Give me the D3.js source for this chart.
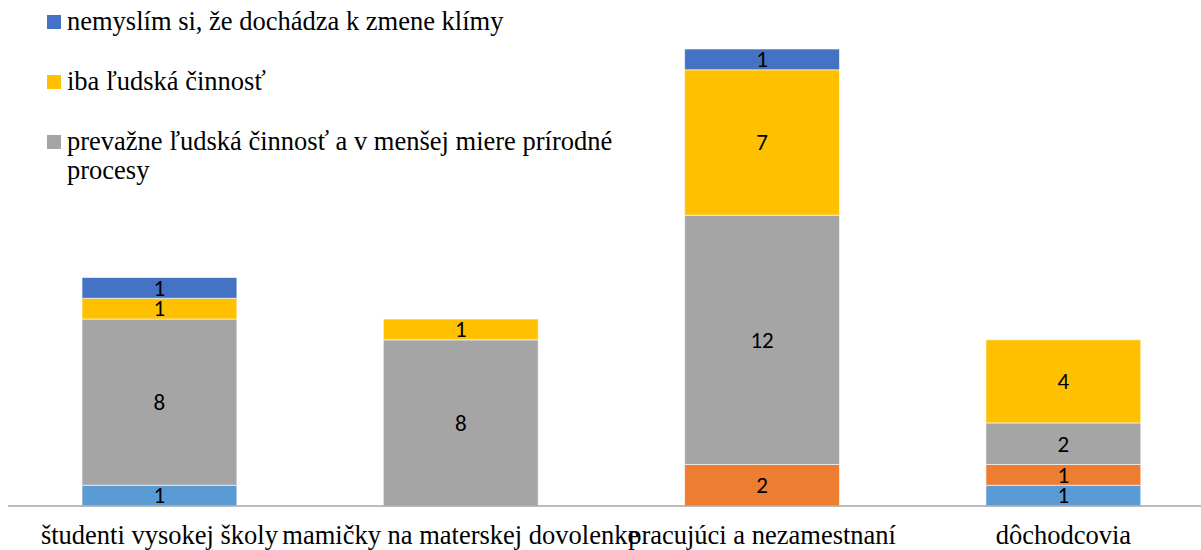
<!DOCTYPE html>
<html>
<head>
<meta charset="utf-8">
<script src="https://cdn.jsdelivr.net/npm/d3@7"></script>
</head>
<body style="margin:0">
<svg id="chart" width="1201" height="550"></svg>
<script>
// ---- data ----
const categories = ["študenti vysokej školy", "mamičky na materskej dovolenke", "pracujúci a nezamestnaní", "dôchodcovia"];
const seriesNames = ["iba prírodné procesy", "prevažne prírodné procesy a v menšej miere ľudská činnosť", "prevažne ľudská činnosť a v menšej miere prírodné procesy", "iba ľudská činnosť", "nemyslím si, že dochádza k zmene klímy"];
const seriesColors = ["#5B9BD5", "#ED7D31", "#A5A5A5", "#FFC000", "#4472C4"];
const valuesIbaPrirodne = [1, 0, 0, 1];
const valuesPrevaznePrirodne = [0, 0, 2, 1];
const valuesPrevazneLudska = [8, 8, 12, 2];
const valuesIbaLudska = [1, 1, 7, 4];
const valuesNemyslim = [1, 0, 1, 0];
const legendSeries = [4, 3, 2]; // indices of series shown in legend
const legendLines = [["nemyslím si, že dochádza k zmene klímy"], ["iba ľudská činnosť"], ["prevažne ľudská činnosť a v menšej miere prírodné", "procesy"]];
const yMax = 22;

// ---- build ----
const allValues = [valuesIbaPrirodne, valuesPrevaznePrirodne, valuesPrevazneLudska, valuesIbaLudska, valuesNemyslim];
const rows = categories.map((c, i) => {
  const r = { cat: c };
  seriesNames.forEach((s, j) => r[s] = allValues[j][i]);
  return r;
});
const stack = d3.stack().keys(seriesNames)(rows);

const svg = d3.select("#chart");
const x = d3.scaleBand().domain(categories).range([8.8, 1214]).paddingInner(0.486).paddingOuter(0.243);
const y = d3.scaleLinear().domain([0, yMax]).range([506, 49]);

const g = svg.append("g");
stack.forEach((layer, j) => {
  const lg = g.append("g").attr("fill", seriesColors[j]);
  lg.selectAll("rect").data(layer.filter(d => d[1] - d[0] > 0)).enter().append("rect")
    .attr("x", d => x(d.data.cat))
    .attr("width", x.bandwidth())
    .attr("y", d => y(d[1]))
    .attr("height", d => y(d[0]) - y(d[1]))
    .attr("stroke", "#ffffff")
    .attr("stroke-opacity", 0.6)
    .attr("stroke-width", 1);
});
stack.forEach((layer, j) => {
  g.append("g").selectAll("text").data(layer.filter(d => d[1] - d[0] > 0)).enter().append("text")
    .attr("font-family", "Carlito")
    .attr("font-size", 23)
    .attr("x", d => x(d.data.cat) + x.bandwidth() / 2)
    .attr("y", d => (y(d[0]) + y(d[1])) / 2)
    .attr("dy", "0.34em")
    .attr("text-anchor", "middle")
    .attr("fill", "#000")
    .text(d => d[1] - d[0]);
});

// axis
const axis = svg.append("g").attr("transform", "translate(0,506)")
  .call(d3.axisBottom(x).tickSize(0).tickPadding(0));
axis.attr("font-family", "Liberation Serif").attr("font-size", 26.5);
axis.select(".domain").attr("stroke", "#A6A6A6").attr("stroke-width", 1.5).attr("d", "M8,0H1214");
axis.selectAll(".tick text")
  .attr("font-family", "Liberation Serif")
  .attr("font-size", 26.5)
  .attr("fill", "#000")
  .attr("y", 38)
  .attr("dy", 0);

// legend
const legendY = [30, 90, 150];
const lg = svg.append("g").attr("font-family", "Liberation Serif").attr("font-size", 26.5);
legendSeries.forEach((si, k) => {
  const by = legendY[k];
  lg.append("rect").attr("x", 47).attr("y", by - 15).attr("width", 14).attr("height", 14)
    .attr("fill", seriesColors[si]);
  const t = lg.append("text").attr("x", 67).attr("y", by)
    .attr("font-family", "Liberation Serif")
    .attr("font-size", 26.5)
    .attr("fill", "#000");
  legendLines[k].forEach((ln, i) => {
    t.append("tspan").attr("x", 67).attr("dy", i === 0 ? 0 : 29).text(ln);
  });
});
</script>
</body>
</html>
